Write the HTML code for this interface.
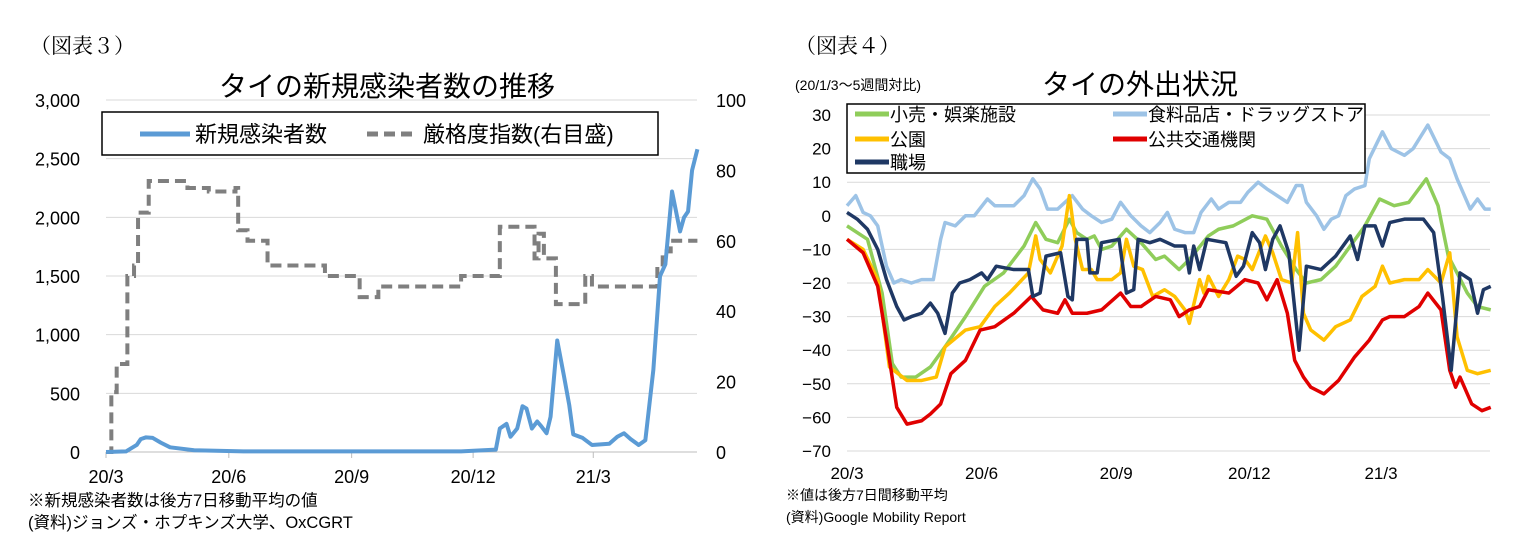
<!DOCTYPE html>
<html><head><meta charset="utf-8">
<style>
html,body{margin:0;padding:0;background:#fff;}
svg{display:block;}
text{font-family:"Liberation Sans","Noto Sans CJK JP",sans-serif;fill:#000;}
.serif{font-family:"Liberation Serif","Noto Serif CJK JP",serif;}
</style></head>
<body>
<svg id="s" width="1529" height="559" viewBox="0 0 1529 559" xmlns="http://www.w3.org/2000/svg">
<text class="serif" x="30" y="53" font-size="21">（図表３）</text>
<text x="387" y="96" font-size="28" text-anchor="middle">タイの新規感染者数の推移</text>
<text class="serif" x="795" y="53" font-size="21">（図表４）</text>
<text x="795" y="90" font-size="14">(20/1/3～5週間対比)</text>
<text x="1140" y="94" font-size="28" text-anchor="middle">タイの外出状況</text>
<g id="left"></g>
<g id="right"></g>
<text x="28" y="506" font-size="16.5">※新規感染者数は後方7日移動平均の値</text>
<text x="28" y="528" font-size="16.5">(資料)ジョンズ・ホプキンズ大学、OxCGRT</text>
<text x="786" y="500" font-size="14">※値は後方7日間移動平均</text>
<text x="786" y="522" font-size="14">(資料)Google Mobility Report</text>
</svg>
<script>
// ---------- Left chart data ----------
const leftXTicks = ["20/3","20/6","20/9","20/12","21/3"];
const leftXTickDays = [0,92,184,275,365];
const leftYTicks = [0,500,1000,1500,2000,2500,3000];
const leftYTickLabels = ["0","500","1,000","1,500","2,000","2,500","3,000"];
const rightAxisTicks = [0,20,40,60,80,100];
const caseDays = [0,15,23,26,30,35,41,48,66,103,266,292,295,300,303,308,312,315,319,323,326,330,333,338,343,347,350,357,364,377,383,388,393,399,404,410,415,419,424,430,433,436,439,443];
const caseValues = [0,5,60,110,125,120,80,40,15,5,5,20,200,240,130,200,390,370,200,260,220,160,300,950,650,400,150,120,60,70,130,160,110,60,100,700,1500,1600,2220,1880,2000,2050,2400,2580];
const stringDays = [0,4,8,16,21,24,32,61,77,97,99,106,121,164,190,204,266,295,321,324,328,337,359,364,413,417,423,443];
const stringValues = [0,17,25,50,53,68,77,75,74,75,63,60,53,50,44,47,50,64,55,62,55,42,50,47,52,57,60,60];

// ---------- Right chart data ----------
const rightXTicks = ["20/3","20/6","20/9","20/12","21/3"];
const rightXTickDays = [0,92,184,275,365];
const rightYTicks = [30,20,10,0,-10,-20,-30,-40,-50,-60,-70];
const groceryDays=[0,6,11,16,21,27,32,37,44,51,59,64,67,74,81,87,96,101,107,114,121,127,132,137,144,154,161,167,174,181,187,194,201,207,214,219,224,231,237,242,249,254,261,269,274,281,287,294,301,307,311,314,321,326,331,336,341,347,354,357,366,372,381,387,397,406,412,417,426,431,436,440];
const groceryValues=[3,6,1,0,-3,-15,-20,-19,-20,-19,-19,-7,-2,-3,0,0,5,3,3,3,6,11,8,2,2,6,2,0,-2,-1,4,0,-3,-5,-2,1,-4,-5,-5,1,5,2,4,4,7,10,8,6,4,9,9,4,0,-4,-1,0,6,8,9,17,25,20,18,20,27,19,17,11,2,5,2,2];
const retailDays=[0,14,24,31,37,47,57,67,81,94,107,121,129,136,144,152,157,164,169,174,181,191,201,211,217,227,234,247,254,264,277,287,297,307,314,324,334,344,354,364,374,384,396,404,411,417,424,431,440];
const retailValues=[-3,-7,-23,-44,-48,-48,-45,-39,-30,-21,-17,-9,-2,-7,-8,-1,-5,-7,-6,-10,-9,-4,-8,-13,-12,-16,-13,-6,-4,-3,0,-1,-9,-16,-20,-19,-15,-9,-3,5,3,4,11,3,-12,-17,-23,-27,-28];
const parkDays=[0,11,21,29,41,51,61,67,81,91,101,111,124,129,132,139,147,152,156,161,167,171,181,187,191,196,202,209,217,224,231,234,241,244,247,254,261,267,272,277,286,291,297,304,308,312,317,326,334,344,352,361,366,371,381,391,397,406,412,417,424,431,440];
const parkValues=[-7,-10,-19,-45,-49,-49,-48,-39,-34,-33,-27,-23,-17,-6,-13,-17,-9,6,-7,-16,-16,-19,-19,-17,-7,-15,-16,-24,-22,-24,-28,-32,-19,-23,-18,-24,-19,-12,-13,-16,-6,-11,-19,-20,-5,-29,-34,-37,-33,-31,-24,-21,-15,-20,-19,-19,-16,-20,-11,-36,-46,-47,-46];
const transitDays=[0,11,21,27,34,41,51,57,64,71,81,91,101,114,126,134,144,149,154,164,174,187,194,201,211,221,227,234,241,247,261,272,281,287,294,301,306,312,317,326,336,347,357,366,371,381,391,397,406,412,416,419,427,434,440];
const transitValues=[-7,-11,-21,-37,-57,-62,-61,-59,-56,-47,-43,-34,-33,-29,-24,-28,-29,-25,-29,-29,-28,-23,-27,-27,-24,-25,-30,-28,-27,-22,-23,-19,-20,-25,-19,-29,-43,-48,-51,-53,-49,-42,-37,-31,-30,-30,-27,-23,-28,-46,-51,-48,-56,-58,-57];
const workDays=[0,7,14,21,27,34,39,44,51,57,62,67,72,77,84,92,96,102,114,124,127,132,136,146,151,154,157,164,166,171,174,186,191,196,199,207,214,224,231,234,237,241,246,259,266,271,277,282,286,291,296,302,309,314,324,334,344,349,354,361,366,371,381,394,401,407,413,419,426,431,435,440];
const workValues=[1,-1,-4,-10,-19,-27,-31,-30,-29,-26,-29,-35,-23,-20,-19,-17,-19,-15,-16,-16,-24,-23,-12,-11,-24,-25,-7,-7,-17,-17,-8,-7,-23,-22,-7,-8,-7,-9,-9,-17,-9,-16,-7,-8,-18,-15,-5,-8,-16,-7,-3,-11,-40,-15,-16,-12,-6,-13,-3,-3,-9,-2,-1,-1,-5,-24,-46,-17,-19,-29,-22,-21];

const NS="http://www.w3.org/2000/svg";
function mk(parent,tag,attrs){const e=document.createElementNS(NS,tag);for(const k in attrs)e.setAttribute(k,attrs[k]);parent.appendChild(e);return e;}

// ---------- Left chart ----------
const L=document.getElementById('left');
const lx=d=>106+d*1.335;
const ly=v=>452-v*(352/3000);
const ly2=v=>452-v*(352/100);
leftYTicks.forEach((t,i)=>{
  const g=mk(L,'line',{x1:106,x2:697,y1:ly(t),y2:ly(t),stroke:i===0?'#bdbdbd':'#d9d9d9','stroke-width':1});
  
  
  const tx=mk(L,'text',{x:80,y:ly(t)+7,'font-size':18,'text-anchor':'end'});
  tx.textContent=leftYTickLabels[i];
  
  
});
rightAxisTicks.forEach(t=>{
  const tx=mk(L,'text',{x:716,y:ly2(t)+7,'font-size':18});
  tx.textContent=String(t);
  
  
});
leftXTicks.forEach((t,i)=>{
  const x=lx(leftXTickDays[i]);
  const tk=mk(L,'line',{x1:x,x2:x,y1:452,y2:458,stroke:'#bdbdbd'});
  
  
  const tx=mk(L,'text',{x:x,y:483,'font-size':18,'text-anchor':'middle'});
  tx.textContent=t;
  
  
});
let sp='';
stringDays.forEach((d,i)=>{
  if(i===0) sp+='M'+lx(d)+','+ly2(stringValues[i]);
  else sp+=' L'+lx(d)+','+ly2(stringValues[i-1])+' L'+lx(d)+','+ly2(stringValues[i]);
});
const sl=mk(L,'path',{d:sp,fill:'none',stroke:'#7f7f7f','stroke-width':4,'stroke-dasharray':'11,6'});


const cl=mk(L,'polyline',{points:caseDays.map((d,i)=>lx(d)+','+ly(caseValues[i])).join(' '),fill:'none',stroke:'#5b9bd5','stroke-width':4,'stroke-linejoin':'round'});


const lb=mk(L,'rect',{x:102,y:112,width:556,height:43,fill:'#fff',stroke:'#000','stroke-width':1.5});


const le1=mk(L,'line',{x1:140,x2:190,y1:134,y2:134,stroke:'#5b9bd5','stroke-width':5});


const lt1=mk(L,'text',{x:195,y:142,'font-size':22});lt1.textContent='新規感染者数';


const le2=mk(L,'line',{x1:367,x2:415,y1:134,y2:134,stroke:'#7f7f7f','stroke-width':5,'stroke-dasharray':'11,6'});


const lt2=mk(L,'text',{x:423,y:142,'font-size':22});lt2.textContent='厳格度指数(右目盛)';



// ---------- Right chart ----------
const R=document.getElementById('right');
const rx=d=>847+d*1.463;
const ry=v=>115+(30-v)*3.36;
rightYTicks.forEach(t=>{
  const g=mk(R,'line',{x1:847,x2:1490,y1:ry(t),y2:ry(t),stroke:'#d9d9d9','stroke-width':1});
  
  
  const tx=mk(R,'text',{x:831,y:ry(t)+6,'font-size':17,'text-anchor':'end'});
  tx.textContent=t<0?'−'+Math.abs(t):String(t);
  
  
});
rightXTicks.forEach((t,i)=>{
  const tx=mk(R,'text',{x:rx(rightXTickDays[i]),y:479,'font-size':17,'text-anchor':'middle'});
  tx.textContent=t;
  
  
});
function series(days,vals,color){
  return mk(R,'polyline',{points:days.map((d,i)=>rx(d)+','+ry(vals[i])).join(' '),fill:'none',stroke:color,'stroke-width':3.5,'stroke-linejoin':'round'});
}
let p;
p=series(groceryDays,groceryValues,'#9dc3e6');


p=series(retailDays,retailValues,'#8fcd5a');


p=series(parkDays,parkValues,'#ffc000');


p=series(transitDays,transitValues,'#e00000');


p=series(workDays,workValues,'#1f3864');


const rb=mk(R,'rect',{x:847,y:104,width:518,height:69,fill:'#fff',stroke:'#000','stroke-width':1.5});


const legItems=[['小売・娯楽施設','#8fcd5a',855,114],['食料品店・ドラッグストア','#9dc3e6',1113,114],['公園','#ffc000',855,139],['公共交通機関','#e00000',1113,139],['職場','#1f3864',855,162]];
legItems.forEach(it=>{
  const s=mk(R,'line',{x1:it[2],x2:it[2]+34,y1:it[3],y2:it[3],stroke:it[1],'stroke-width':5});
  
  
  const t=mk(R,'text',{x:it[2]+35,y:it[3]+7,'font-size':18});
  t.textContent=it[0];
  
  
});
</script>
</body></html>
